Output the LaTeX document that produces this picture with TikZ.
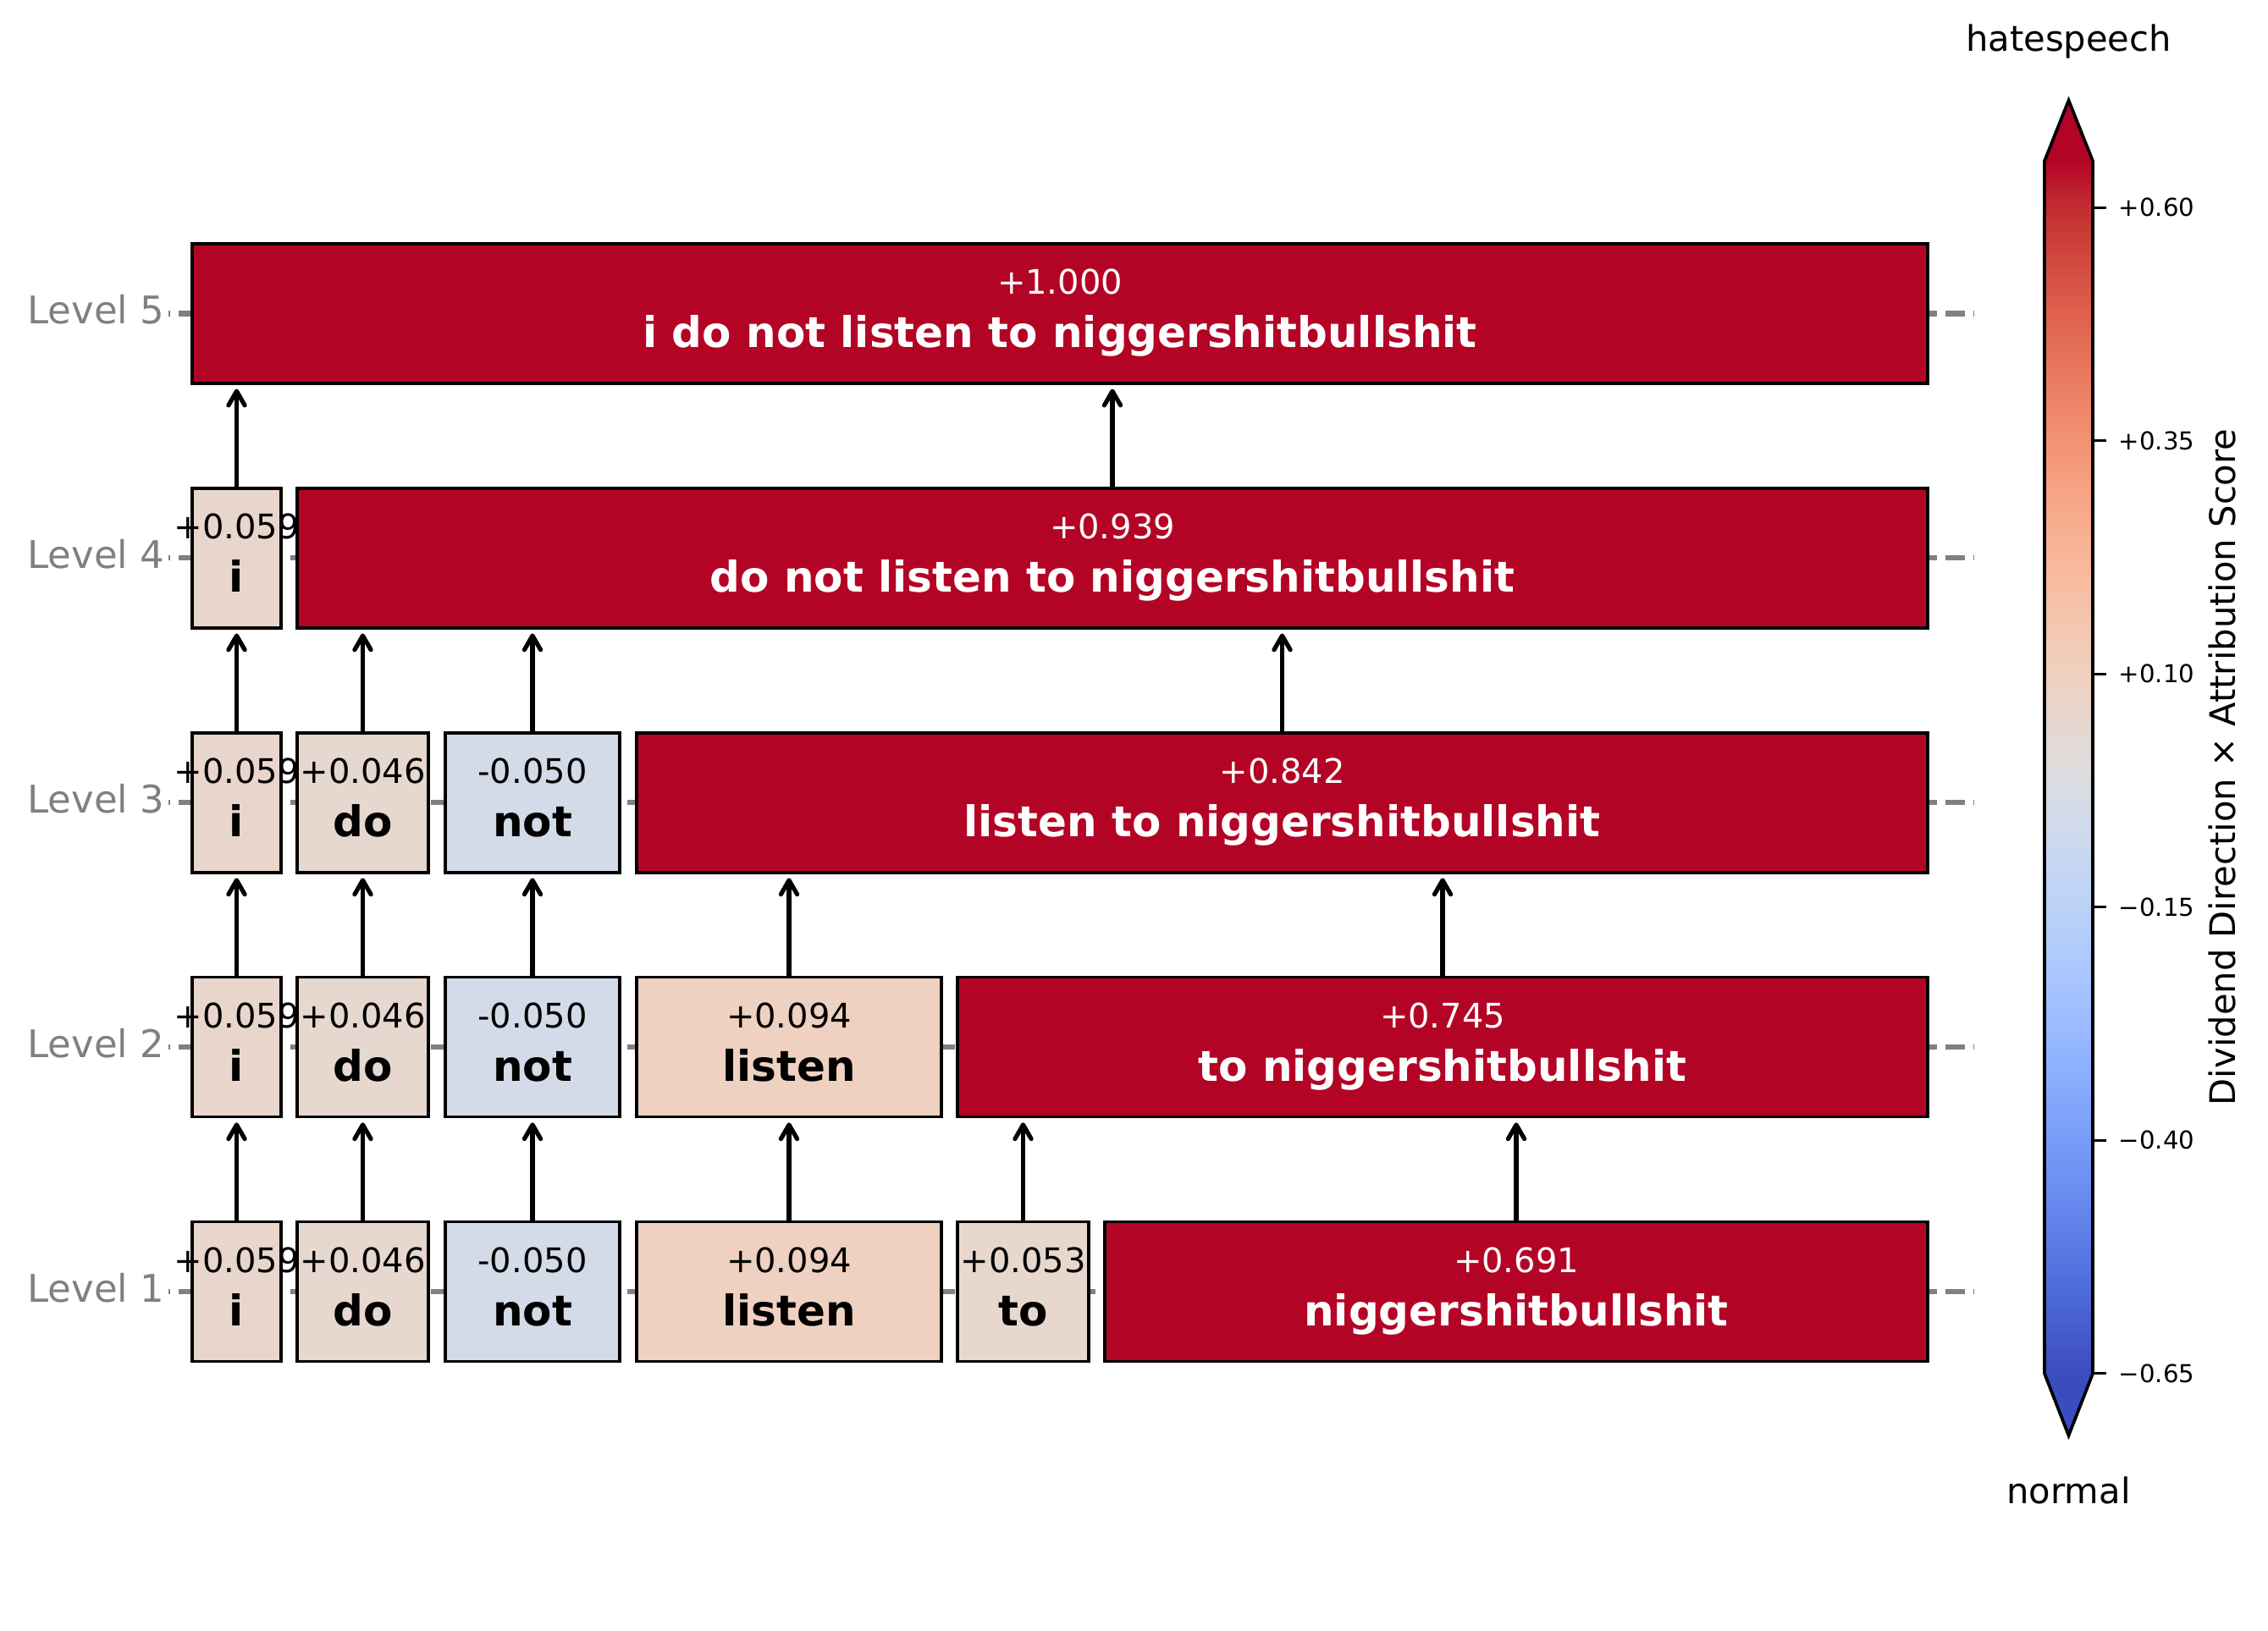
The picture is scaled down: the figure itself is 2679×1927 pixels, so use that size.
\documentclass[tikz,border=0pt]{standalone}
\usepackage{fontspec}
\setmainfont{DejaVu Sans}
\usetikzlibrary{arrows.meta}

\definecolor{hot}{RGB}{180,4,38}
\definecolor{cI}{RGB}{232,214,204}
\definecolor{cDo}{RGB}{230,215,207}
\definecolor{cNot}{RGB}{211,219,232}
\definecolor{cListen}{RGB}{238,209,193}
\definecolor{cTo}{RGB}{231,215,205}
\definecolor{gridgray}{RGB}{128,128,128}

\definecolor{cw0}{RGB}{59,76,192}
\definecolor{cw1}{RGB}{68,90,204}
\definecolor{cw2}{RGB}{77,104,215}
\definecolor{cw3}{RGB}{87,117,225}
\definecolor{cw4}{RGB}{98,130,234}
\definecolor{cw5}{RGB}{108,142,241}
\definecolor{cw6}{RGB}{119,154,247}
\definecolor{cw7}{RGB}{130,165,251}
\definecolor{cw8}{RGB}{141,176,254}
\definecolor{cw9}{RGB}{152,185,255}
\definecolor{cw10}{RGB}{163,194,255}
\definecolor{cw11}{RGB}{174,201,253}
\definecolor{cw12}{RGB}{184,208,249}
\definecolor{cw13}{RGB}{194,213,244}
\definecolor{cw14}{RGB}{204,217,238}
\definecolor{cw15}{RGB}{213,219,230}
\definecolor{cw16}{RGB}{221,221,221}
\definecolor{cw17}{RGB}{229,216,209}
\definecolor{cw18}{RGB}{236,211,197}
\definecolor{cw19}{RGB}{241,204,185}
\definecolor{cw20}{RGB}{245,196,173}
\definecolor{cw21}{RGB}{247,187,160}
\definecolor{cw22}{RGB}{247,177,148}
\definecolor{cw23}{RGB}{247,166,135}
\definecolor{cw24}{RGB}{244,154,123}
\definecolor{cw25}{RGB}{241,141,111}
\definecolor{cw26}{RGB}{236,127,99}
\definecolor{cw27}{RGB}{229,112,88}
\definecolor{cw28}{RGB}{222,96,77}
\definecolor{cw29}{RGB}{213,80,66}
\definecolor{cw30}{RGB}{203,62,56}
\definecolor{cw31}{RGB}{192,40,47}
\definecolor{cw32}{RGB}{180,4,38}

\pgfdeclareverticalshading{coolwarmbar}{100bp}{color(0bp)=(cw0); color(25bp)=(cw0);
 color(26.5625bp)=(cw1); color(28.125bp)=(cw2); color(29.6875bp)=(cw3); color(31.25bp)=(cw4);
 color(32.8125bp)=(cw5); color(34.375bp)=(cw6); color(35.9375bp)=(cw7); color(37.5bp)=(cw8);
 color(39.0625bp)=(cw9); color(40.625bp)=(cw10); color(42.1875bp)=(cw11); color(43.75bp)=(cw12);
 color(45.3125bp)=(cw13); color(46.875bp)=(cw14); color(48.4375bp)=(cw15); color(50bp)=(cw16);
 color(51.5625bp)=(cw17); color(53.125bp)=(cw18); color(54.6875bp)=(cw19); color(56.25bp)=(cw20);
 color(57.8125bp)=(cw21); color(59.375bp)=(cw22); color(60.9375bp)=(cw23); color(62.5bp)=(cw24);
 color(64.0625bp)=(cw25); color(65.625bp)=(cw26); color(67.1875bp)=(cw27); color(68.75bp)=(cw28);
 color(70.3125bp)=(cw29); color(71.875bp)=(cw30); color(73.4375bp)=(cw31); color(75bp)=(cw32);
 color(100bp)=(cw32)}

\newcommand\tokbox[8]{%
  \node[tbox, fill=#5, minimum width={(#3-#2)*0.24pt}] (#1) at ({(#2+#3)/2},#4) {};
  \node[valtxt, text=#6] (#1v) at ([yshift=5.45pt]#1.center) {#7};
  \node[wordtxt, text=#6] (#1w) at ([yshift=-9.6pt]#1.center) {#8};
}

\begin{document}
\begin{tikzpicture}[x=0.24pt, y=-0.24pt,
  tbox/.style={draw=black, line width=0.9pt, minimum height=39.6pt, inner sep=0pt, outer sep=0pt},
  valtxt/.style={anchor=base, inner sep=0pt, font=\fontsize{9.6}{11}\selectfont},
  wordtxt/.style={anchor=base, inner sep=0pt, font=\fontsize{12}{14}\selectfont\bfseries},
  lvl/.style={anchor=base east, inner sep=0pt, text=gridgray, font=\fontsize{10.8}{13}\selectfont},
  gridline/.style={draw=gridgray, line width=1.5pt, dash pattern=on 5.55pt off 2.4pt, dash phase=5.1pt},
  arr/.style={draw=black, line width=1.25pt, shorten >=1.6pt,
    -{Straight Barb[length=4pt, width=4.6pt, line cap=round, line join=round]}},
  tick/.style={draw=black, line width=0.8pt},
  ticklab/.style={anchor=base west, inner sep=0pt, font=\fontsize{7}{8}\selectfont},
  cbtxt/.style={inner sep=0pt, font=\fontsize{10}{12}\selectfont}
]
\useasboundingbox (0,0) rectangle (2679,1927);

% grid lines
\foreach \yy in {370.4,659.3,948.2,1237.1,1526} {
  \draw[gridline] (199,\yy) -- (2331,\yy);
}

% level labels
\node[lvl, yshift=-2.9pt] (lv5) at (195,370.4) {Level 5};
\node[lvl, yshift=-2.9pt] (lv4) at (195,659.3) {Level 4};
\node[lvl, yshift=-2.9pt] (lv3) at (195,948.2) {Level 3};
\node[lvl, yshift=-2.9pt] (lv2) at (195,1237.1) {Level 2};
\node[lvl, yshift=-2.9pt] (lv1) at (195,1526) {Level 1};

% Level 1
\tokbox{t1i}{227}{332}{1526}{cI}{black}{+0.059}{i}
\tokbox{t1do}{351}{506}{1526}{cDo}{black}{+0.046}{do}
\tokbox{t1not}{526}{732}{1526}{cNot}{black}{-0.050}{not}
\tokbox{t1listen}{752}{1112}{1526}{cListen}{black}{+0.094}{listen}
\tokbox{t1to}{1131}{1286}{1526}{cTo}{black}{+0.053}{to}
\tokbox{t1nig}{1305}{2277}{1526}{hot}{white}{+0.691}{niggershitbullshit}
% Level 2
\tokbox{t2i}{227}{332}{1237.1}{cI}{black}{+0.059}{i}
\tokbox{t2do}{351}{506}{1237.1}{cDo}{black}{+0.046}{do}
\tokbox{t2not}{526}{732}{1237.1}{cNot}{black}{-0.050}{not}
\tokbox{t2listen}{752}{1112}{1237.1}{cListen}{black}{+0.094}{listen}
\tokbox{t2rest}{1131}{2277}{1237.1}{hot}{white}{+0.745}{to niggershitbullshit}
% Level 3
\tokbox{t3i}{227}{332}{948.2}{cI}{black}{+0.059}{i}
\tokbox{t3do}{351}{506}{948.2}{cDo}{black}{+0.046}{do}
\tokbox{t3not}{526}{732}{948.2}{cNot}{black}{-0.050}{not}
\tokbox{t3rest}{752}{2277}{948.2}{hot}{white}{+0.842}{listen to niggershitbullshit}
% Level 4
\tokbox{t4i}{227}{332}{659.3}{cI}{black}{+0.059}{i}
\tokbox{t4rest}{351}{2277}{659.3}{hot}{white}{+0.939}{do not listen to niggershitbullshit}
% Level 5
\tokbox{t5}{227}{2277}{370.4}{hot}{white}{+1.000}{i do not listen to niggershitbullshit}

% arrows
\foreach \a/\b in {t1i/t2i, t1do/t2do, t1not/t2not, t1listen/t2listen, t1to/t2rest, t1nig/t2rest,
  t2i/t3i, t2do/t3do, t2not/t3not, t2listen/t3rest, t2rest/t3rest,
  t3i/t4i, t3do/t4rest, t3not/t4rest, t3rest/t4rest,
  t4i/t5, t4rest/t5} {
  \draw[arr] (\a.north) -- (\a.north |- \b.south);
}

% colorbar
\fill[cw32] (2415,190.2) -- (2443.5,118.6) -- (2472,190.2) -- cycle;
\fill[cw0] (2415,1622.8) -- (2443.5,1696) -- (2472,1622.8) -- cycle;
\shade[shading=coolwarmbar] (2415,190.2) rectangle (2472,1622.8);
\draw[black, line width=0.9pt, line join=miter] (2415,190.2) -- (2443.5,118.6) -- (2472,190.2)
  -- (2472,1622.8) -- (2443.5,1696) -- (2415,1622.8) -- cycle;

\foreach \v/\lab [count=\k] in {0.60/+0.60, 0.35/+0.35, 0.10/+0.10, -0.15/{−0.15}, -0.40/{−0.40}, -0.65/{−0.65}} {
  \draw[tick] (2472,{906.5-\v*1102}) -- (2487.5,{906.5-\v*1102});
  \node[ticklab, yshift=-2.55pt] (tl\k) at (2502,{906.5-\v*1102}) {\lab};
}

\node[cbtxt, anchor=base] (hs) at (2443.5,61) {hatespeech};
\node[cbtxt, anchor=base] (nm) at (2443.5,1776) {normal};
\node[cbtxt, anchor=base, rotate=90] (cblab) at (2640,906.5) {Dividend Direction × Attribution Score};

\end{tikzpicture}
\end{document}
